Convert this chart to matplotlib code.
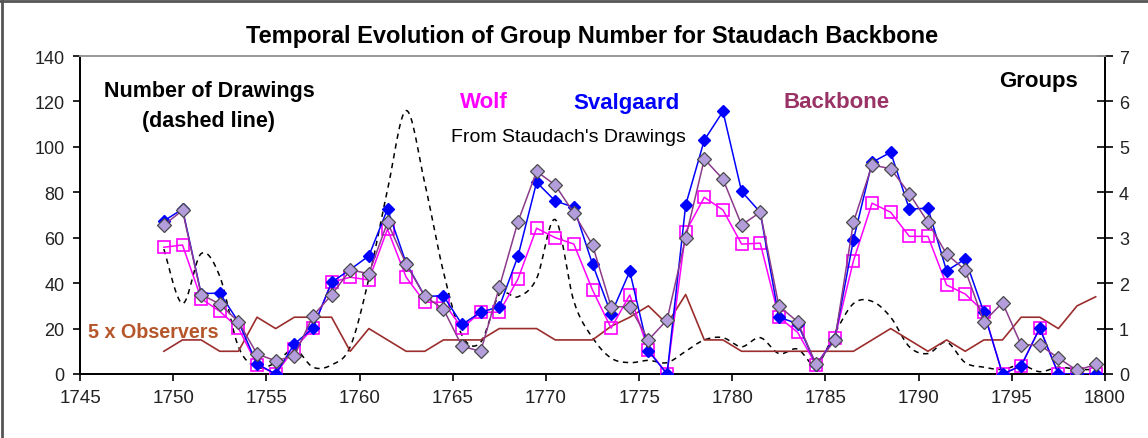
import numpy as np
import matplotlib
matplotlib.use("Agg")
import matplotlib.pyplot as plt
from matplotlib.lines import Line2D

plt.rcParams['font.family'] = ['Liberation Sans', 'DejaVu Sans']

years = [1749.5, 1750.5, 1751.5, 1752.5, 1753.5, 1754.5, 1755.5, 1756.5, 1757.5, 1758.5,
         1759.5, 1760.5, 1761.5, 1762.5, 1763.5, 1764.5, 1765.5, 1766.5, 1767.5, 1768.5,
         1769.5, 1770.5, 1771.5, 1772.5, 1773.5, 1774.5, 1775.5, 1776.5, 1777.5, 1778.5,
         1779.5, 1780.5, 1781.5, 1782.5, 1783.5, 1784.5, 1785.5, 1786.5, 1787.5, 1788.5,
         1789.5, 1790.5, 1791.5, 1792.5, 1793.5, 1794.5, 1795.5, 1796.5, 1797.5, 1798.5,
         1799.5]

# Groups (right axis)
svalgaard = [3.37, 3.63, 1.77, 1.78, 1.15, 0.22, 0.00, 0.66, 1.01, 2.02,
             2.30, 2.60, 3.63, 2.44, 1.71, 1.72, 1.09, 1.36, 1.48, 2.59,
             4.22, 3.81, 3.67, 2.42, 1.32, 2.26, 0.51, 0.00, 3.72, 5.15,
             5.78, 4.02, 3.56, 1.25, 1.11, 0.20, 0.77, 2.95, 4.66, 4.88,
             3.63, 3.65, 2.27, 2.53, 1.36, 0.00, 0.18, 1.01, 0.00, 0.00,
             0.00]
wolf = [2.79, 2.84, 1.66, 1.38, 1.01, 0.20, 0.00, 0.56, 1.01, 2.02,
        2.13, 2.07, 3.19, 2.13, 1.58, 1.58, 1.01, 1.36, 1.36, 2.09,
        3.21, 3.00, 2.86, 1.85, 1.01, 1.74, 0.53, 0.00, 3.13, 3.89,
        3.61, 2.86, 2.88, 1.25, 0.92, 0.20, 0.79, 2.49, 3.76, 3.56,
        3.03, 3.03, 1.96, 1.76, 1.37, 0.00, 0.18, 1.01, 0.00, 0.00,
        0.00]
backbone = [3.28, 3.60, 1.75, 1.54, 1.15, 0.44, 0.29, 0.40, 1.28, 1.74,
            2.29, 2.21, 3.34, 2.42, 1.71, 1.43, 0.61, 0.50, 1.91, 3.35,
            4.46, 4.16, 3.54, 2.84, 1.48, 1.48, 0.75, 1.19, 3.00, 4.73,
            4.29, 3.28, 3.56, 1.50, 1.15, 0.21, 0.74, 3.34, 4.60, 4.52,
            3.97, 3.34, 2.64, 2.29, 1.15, 1.57, 0.64, 0.64, 0.35, 0.08,
            0.21]
# Left axis
observers5 = [10, 15, 15, 10, 10, 25, 20, 25, 25, 25,
              10, 20, 15, 10, 10, 15, 15, 15, 20, 20,
              20, 15, 15, 15, 21, 25, 30, 22, 35, 15,
              15, 10, 10, 10, 10, 10, 10, 10, 15, 20,
              15, 10, 15, 10, 15, 15, 25, 25, 20, 30,
              34]
drawings = [55, 31, 53, 43, 12, 3, 5, 11, 3, 4,
            12, 42, 81, 116, 84, 45, 17, 14, 35, 34,
            42, 68, 32, 16, 7, 5, 6, 5, 10, 15,
            16, 12, 16, 9, 11, 4, 18, 31, 32, 25,
            12, 9, 14, 5, 3, 2, 4, 1, 3, 2,
            2]

left_ticks = [0, 20, 40, 60, 80, 100, 120, 140]
right_ticks = [0, 1, 2, 3, 4, 5, 6, 7]
x_ticks = [1745, 1750, 1755, 1760, 1765, 1770, 1775, 1780, 1785, 1790, 1795, 1800]


def smooth(x, y, n=16):
    x = np.asarray(x, float)
    y = np.asarray(y, float)
    xs, ys = [], []
    m = len(x)
    for i in range(m - 1):
        i0 = max(i - 1, 0)
        i3 = min(i + 2, m - 1)
        t = np.linspace(0, 1, n, endpoint=(i == m - 2))
        for arr, out in ((x, xs), (y, ys)):
            p0, p1, p2, p3 = arr[i0], arr[i], arr[i + 1], arr[i3]
            c1 = p1 + (p2 - p0) / 6.0
            c2 = p2 - (p3 - p1) / 6.0
            out.extend((1 - t) ** 3 * p1 + 3 * (1 - t) ** 2 * t * c1
                       + 3 * (1 - t) * t ** 2 * c2 + t ** 3 * p2)
    return np.array(xs), np.array(ys)


fig = plt.figure(figsize=(11.48, 4.39), dpi=100)
ax = fig.add_axes([80 / 1148, 1 - 375 / 439, (1105 - 80) / 1148, (375 - 57) / 439])
ax2 = ax.twinx()

sx, sy = smooth(years, drawings)
ax.plot(sx, sy, color='black', lw=1.1, ls=(0, (3.5, 3)), zorder=2)
ax.plot(years, observers5, color='#9B2D2D', lw=1.2, zorder=3)

ax.set_xlim(1745, 1800)
ax.set_ylim(0, 140)
ax2.set_ylim(0, 7)
ax.set_xticks(x_ticks)
ax.set_yticks(left_ticks)
ax2.set_yticks(right_ticks)

ax2.plot(years, wolf, color='#FF00FF', lw=1.1, marker='s', ms=9, mfc='none',
         mec='#FF00FF', mew=1.2, zorder=3)
ax2.plot(years, svalgaard, color='#0000FF', lw=1.1, marker='D', ms=6, mfc='#0000FF',
         mec='#0000FF', zorder=4)
ax2.plot(years, backbone, color='#8B3A8B', lw=1.1, marker='D', ms=7, mfc='#B39DDB',
         mec='#4A4A4A', mew=0.9, zorder=5)

for a in (ax, ax2):
    a.set_facecolor('none')
    for s in a.spines.values():
        s.set_linewidth(1.3)
ax.spines['top'].set_color('#9A9A9A')
ax2.spines['top'].set_color('#9A9A9A')

ax.tick_params(axis='x', direction='out', length=5, width=1.2, labelsize=13.5, pad=6,
               labelcolor='#222222')
ax.tick_params(axis='y', direction='out', length=5, width=1.2, labelsize=13, pad=6,
               labelcolor='#222222')
ax2.tick_params(axis='y', direction='inout', length=12, width=1.2, labelsize=13, pad=4,
                labelcolor='#222222')

# Texts
fig.text(592 / 1148, 1 - 36 / 439, 'Temporal Evolution of Group Number for Staudach Backbone',
         ha='center', va='center', fontsize=17, fontweight='bold')
fig.text(209 / 1148, 1 - 92 / 439, 'Number of Drawings', ha='center', va='center',
         fontsize=15.5, fontweight='bold')
fig.text(209 / 1148, 1 - 122 / 439, '(dashed line)', ha='center', va='center',
         fontsize=15.5, fontweight='bold')
fig.text(484 / 1148, 1 - 103 / 439, 'Wolf', ha='center', va='center',
         fontsize=16, fontweight='bold', color='#FF00FF')
fig.text(626 / 1148, 1 - 103 / 439, 'Svalgaard', ha='center', va='center',
         fontsize=16, fontweight='bold', color='#0000FF')
fig.text(837 / 1148, 1 - 103 / 439, 'Backbone', ha='center', va='center',
         fontsize=16, fontweight='bold', color='#993366')
fig.text(568 / 1148, 1 - 138 / 439, "From Staudach's Drawings", ha='center', va='center',
         fontsize=14, color='black')
fig.text(1038 / 1148, 1 - 82 / 439, 'Groups', ha='center', va='center',
         fontsize=16, fontweight='bold')
fig.text(153 / 1148, 1 - 332 / 439, '5 x Observers', ha='center', va='center',
         fontsize=14.2, fontweight='bold', color='#B5562B')

# chart area border
fig.add_artist(Line2D([0, 1], [1 - 1.5 / 439, 1 - 1.5 / 439], transform=fig.transFigure,
                      color='#555555', lw=2))
fig.add_artist(Line2D([2 / 1148, 2 / 1148], [0, 1], transform=fig.transFigure,
                      color='#555555', lw=2))

fig.savefig('out.png', dpi=100)
